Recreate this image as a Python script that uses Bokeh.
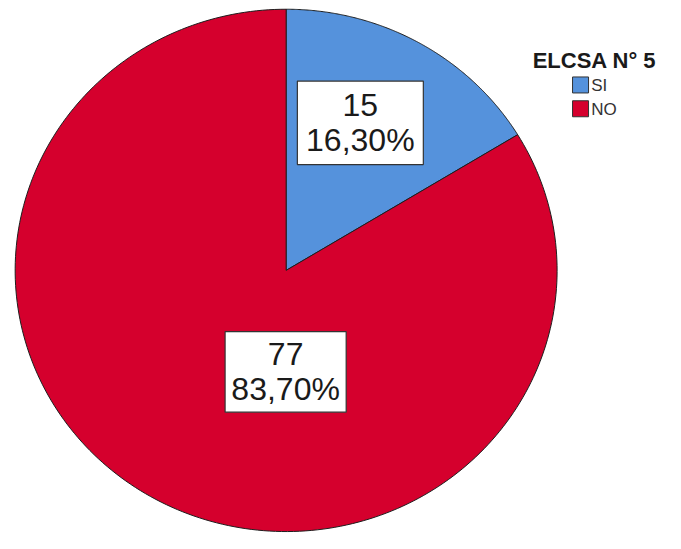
import numpy as np
from bokeh.plotting import figure
from bokeh.models import Range1d
from bokeh.core.properties import value
from bokeh.embed import file_html
from bokeh.resources import INLINE

# ---- data ----
categories = ["SI", "NO"]
counts = [15, 77]
percent_labels = ["16,30%", "83,70%"]
colors = ["#5592DC", "#D5002D"]
legend_title = "ELCSA N° 5"

# ---- layout constants (reference pixels, scaled to the canvas) ----
W, H = 665, 533
SX, SY = W / 681.0, H / 549.0
CX, CY = 292.5 * SX, 278.0 * SY
RX, RY = 277.5 * SX, 269.0 * SY
LABEL_POS = [(368.5 * SX, 126.0 * SY), (292.0 * SX, 382.5 * SY)]
BOX_SIZE = [(129 * SX, 86 * SY), (124 * SX, 83 * SY)]
LINE_OFF = 18.0 * SY
FONT = "Liberation Sans"

p = figure(width=W, height=H, output_backend="svg", toolbar_location=None,
           x_range=Range1d(0, W), y_range=Range1d(H, 0),
           x_axis_type=None, y_axis_type=None, min_border=0,
           background_fill_color="white", border_fill_color="white")
p.outline_line_color = None
p.grid.visible = False

total = float(sum(counts))
start = 90.0
xs, ys = [], []
for c in counts:
    sweep = 360.0 * c / total
    th = np.radians(np.linspace(start, start - sweep, 240))
    x = np.concatenate([[CX], CX + RX * np.cos(th)])
    y = np.concatenate([[CY], CY - RY * np.sin(th)])
    xs.append(list(x))
    ys.append(list(y))
    start -= sweep

p.patches(xs, ys, fill_color=colors, line_color="#1e1e1e", line_width=1)

# value labels
bx = [pos[0] for pos in LABEL_POS]
by = [pos[1] for pos in LABEL_POS]
bw = [s[0] for s in BOX_SIZE]
bh = [s[1] for s in BOX_SIZE]
p.rect(bx, by, width=bw, height=bh, fill_color="white", line_color="#333333", line_width=1.2)
p.text(bx, [b - LINE_OFF for b in by], text=[str(c) for c in counts],
       text_font=value(FONT), text_font_size="32px", text_align="center",
       text_baseline="middle", text_color="#1a1a1a")
p.text(bx, [b + LINE_OFF for b in by], text=percent_labels,
       text_font=value(FONT), text_font_size="32px", text_align="center",
       text_baseline="middle", text_color="#1a1a1a")

# legend
p.text([545 * SX], [62 * SY], text=[legend_title], text_font=value(FONT), text_font_size="22px",
       text_font_style="bold", text_align="left", text_baseline="alphabetic", text_color="#1a1a1a")
lx = [594 * SX, 594 * SX]
ly = [87 * SY, 111.5 * SY]
p.rect(lx, ly, width=16, height=16, fill_color=colors, line_color="#333333", line_width=1)
p.text([605 * SX, 605 * SX], [88 * SY, 112 * SY], text=categories, text_font=value(FONT),
       text_font_size="17px", text_align="left", text_baseline="middle", text_color="#333333")

open("out.html", "w").write(file_html(p, INLINE))
